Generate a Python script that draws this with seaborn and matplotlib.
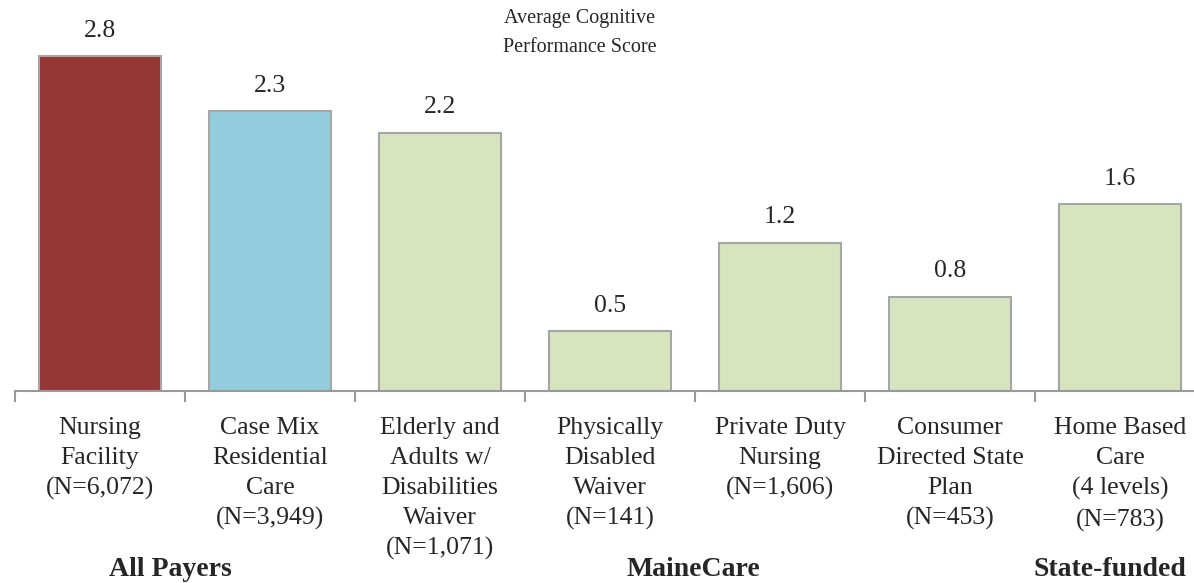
import matplotlib
matplotlib.use("Agg")
import matplotlib.pyplot as plt
import seaborn as sns
import pandas as pd

categories = [
    "Nursing\nFacility\n(N=6,072)",
    "Case Mix\nResidential\nCare\n(N=3,949)",
    "Elderly and\nAdults w/\nDisabilities\nWaiver\n(N=1,071)",
    "Physically\nDisabled\nWaiver\n(N=141)",
    "Private Duty\nNursing\n(N=1,606)",
    "Consumer\nDirected State\nPlan\n(N=453)",
    "Home Based\nCare\n(4 levels)\n(N=783)",
]
scores = [2.80, 2.34, 2.16, 0.50, 1.24, 0.79, 1.56]
bar_colors = ["#943634", "#93CDDD", "#D7E4BD", "#D7E4BD", "#D7E4BD", "#D7E4BD", "#D7E4BD"]
group_labels = ["All Payers", "MaineCare", "State-funded"]

sns.set_style("white")
plt.rcParams["font.family"] = ["Liberation Serif", "DejaVu Serif"]

df = pd.DataFrame({"category": categories, "score": scores})

fig = plt.figure(figsize=(11.94, 5.83), dpi=100)
ax = fig.add_axes([15 / 1194, 192 / 583, 1 - 15 / 1194 + 11 / 1194, 0.6155])

sns.barplot(data=df, x="category", y="score", hue="category", palette=bar_colors,
            saturation=1, legend=False, width=0.72, edgecolor="#A6A6A6", linewidth=1.5, ax=ax)

for i, v in enumerate(scores):
    ax.text(i, v + 0.12, f"{v:.1f}", ha="center", va="bottom", fontsize=18.5)

ax.set_ylim(0, 3.0)
ax.set_xlim(-0.5, 6.5)
ax.set_yticks([])
ax.set_xlabel("")
ax.set_ylabel("")
for s in ["top", "right", "left"]:
    ax.spines[s].set_visible(False)
ax.spines["bottom"].set_color("#999999")
ax.spines["bottom"].set_linewidth(1.5)

ax.set_xticks(range(len(categories)))
ax.set_xticklabels(categories, fontsize=18.5, linespacing=1.46, va="top")
ax.tick_params(axis="x", which="major", bottom=True, length=0, pad=19)
ax.set_xticks([i - 0.5 for i in range(len(categories) + 1)], minor=True)
ax.tick_params(axis="x", which="minor", bottom=True, length=8, width=1.5, color="#999999", direction="out")

fig.text(580 / 1194, 1 - 33 / 583, "Average Cognitive\nPerformance Score", ha="center", va="center",
         fontsize=14.5, linespacing=1.75)

for x, lab in zip([170, 693, 1110], group_labels):
    fig.text(x / 1194, 1 - 569 / 583, lab, ha="center", va="center", fontsize=20, fontweight="bold")

fig.savefig("out.png", dpi=100)
